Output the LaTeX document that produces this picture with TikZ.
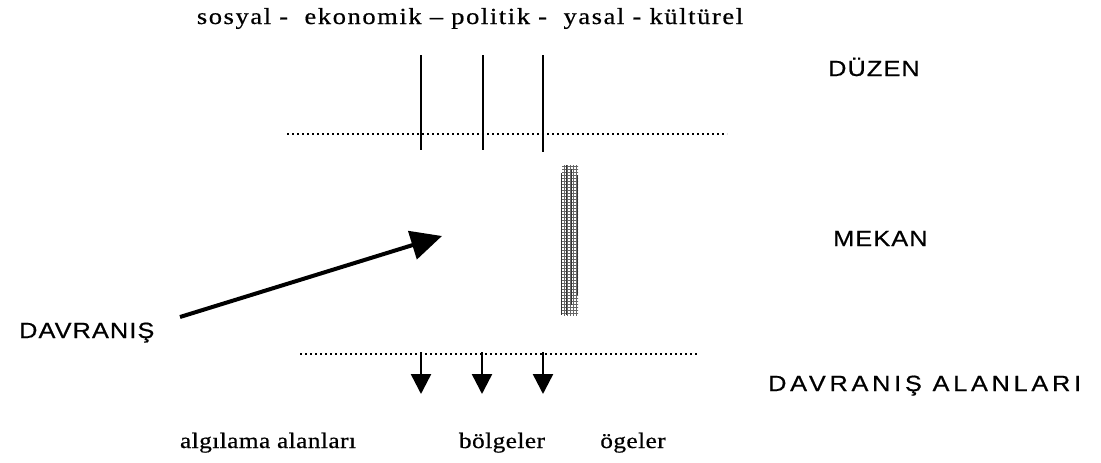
\documentclass[tikz,border=0pt]{standalone}
\usepackage{fontspec}
\setmainfont{Liberation Serif}[FakeStretch=1.15, LetterSpace=7, FakeBold=0.6]
\newfontfamily\capsfont{Liberation Sans}[FakeStretch=1.15, LetterSpace=5, FakeBold=0.6]
\newfontfamily\capswidefont{Liberation Sans}[FakeStretch=1.15, LetterSpace=17, FakeBold=0.6]
\newfontfamily\lowlabelfont{Liberation Serif}[FakeStretch=1.15, LetterSpace=2, FakeBold=0.6]
\usetikzlibrary{arrows.meta,patterns}
\begin{document}
\begin{tikzpicture}[x=1pt,y=-1pt,
  lower/.style={font=\fontsize{23}{26}\selectfont, inner sep=0pt, anchor=base},
  lowlabel/.style={font=\lowlabelfont\fontsize{22}{26}\selectfont, inner sep=0pt, anchor=base},
  caps/.style={font=\capsfont\fontsize{22}{24}\selectfont, inner sep=0pt, anchor=base west},
  capswide/.style={font=\capswidefont\fontsize{22}{24}\selectfont, inner sep=0pt, anchor=base west},
  dotline/.style={line width=2.4pt, dash pattern=on 1.8pt off 3.2pt},
  vline/.style={line width=2pt},
  downarrow/.style={line width=2.5pt, -{Triangle[length=20pt,width=20pt]}},
  bigarrow/.style={line width=4pt, -{Triangle[length=31pt,width=29pt]}},
  stripline/.style={line width=1.2pt, black!80}]
\useasboundingbox (0,0) rectangle (1101,463);
% texts
\node[lower] (top) at (470,24) {sosyal -\ \ ekonomik -- politik -\ \ yasal - kültürel};
\node[caps] (duzen) at (828,76) {DÜZEN};
\node[caps] (mekan) at (833,246) {MEKAN};
\node[caps] (davr) at (19,338) {DAVRANIŞ};
\node[capswide] (alan) at (768,391) {DAVRANIŞ ALANLARI};
\node[lowlabel] (alg) at (268,448) {algılama alanları};
\node[lowlabel] (bol) at (502,448) {bölgeler};
\node[lowlabel] (oge) at (633,448) {ögeler};
% coordinates
\coordinate (t1) at (421,55); \coordinate (b1) at (421,150);
\coordinate (t2) at (483,55); \coordinate (b2) at (483,150);
\coordinate (t3) at (543,55); \coordinate (b3) at (543,152);
\coordinate (d1l) at (287,134); \coordinate (d1r) at (727,134);
\coordinate (d2l) at (300,354); \coordinate (d2r) at (697,354);
\coordinate (a1) at (421,352); \coordinate (e1) at (421,394);
\coordinate (a2) at (482,352); \coordinate (e2) at (482,394);
\coordinate (a3) at (543,352); \coordinate (e3) at (543,394);
\coordinate (as) at (180,317); \coordinate (ae) at (442,236);
% lines
\draw[vline] (t1) -- (b1);
\draw[vline] (t2) -- (b2);
\draw[vline] (t3) -- (b3);
\draw[dotline] (d1l) -- (d1r);
\draw[dotline] (d2l) -- (d2r);
\draw[downarrow] (a1) -- (e1);
\draw[downarrow] (a2) -- (e2);
\draw[downarrow] (a3) -- (e3);
\draw[bigarrow] (as) -- (ae);
% hatched strip
\node[pattern=grid, pattern color=black!60, minimum width=16pt,
      minimum height=150pt, inner sep=0pt] (strip) at (570,240) {};
\draw[stripline] ([yshift=-8pt]strip.north west) -- (strip.south west);
\draw[stripline] ([xshift=5pt]strip.north west) -- ([xshift=5pt]strip.south west);
\draw[stripline] ([xshift=10pt,yshift=-4pt]strip.north west) -- ([xshift=10pt,yshift=10pt]strip.south west);
\draw[stripline] ([xshift=-1pt,yshift=-10pt]strip.north east) -- ([xshift=-1pt,yshift=20pt]strip.south east);
\end{tikzpicture}
\end{document}
